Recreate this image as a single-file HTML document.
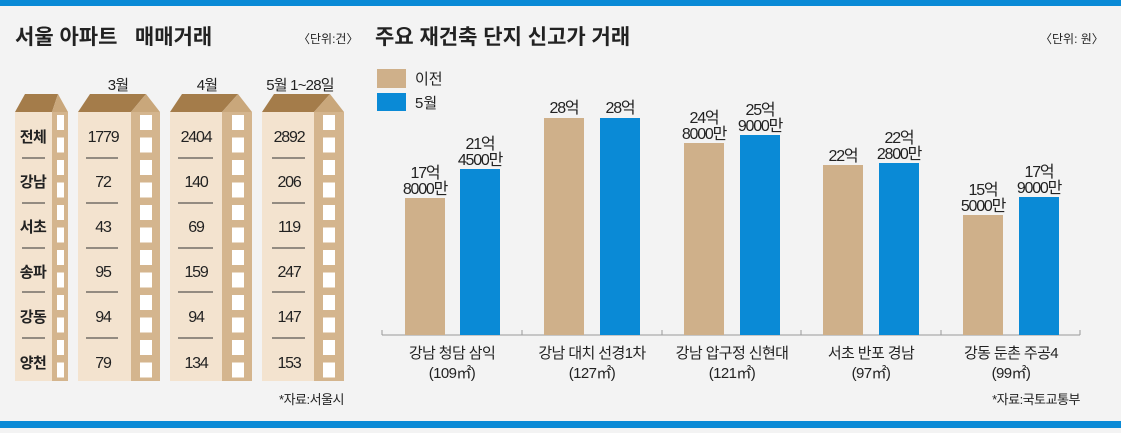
<!DOCTYPE html><html><head><meta charset="utf-8"><style>
body{margin:0;width:1121px;height:428px;overflow:hidden;background:#f3f3f3}
text{font-family:"Liberation Sans","Noto Sans CJK KR",sans-serif;fill:#222}
</style></head><body>
<svg width="1121" height="428" xmlns="http://www.w3.org/2000/svg">
<rect width="1121" height="428" fill="#f3f3f3"/>
<rect width="1121" height="6" fill="#0a8ad6"/>
<rect y="421" width="1121" height="7" fill="#0a8ad6"/>
<text x="15" y="44" font-size="21" font-weight="bold" xml:space="preserve">서울 아파트   매매거래</text>
<text x="298" y="43" font-size="12">〈단위:건〉</text>
<text x="375" y="44" font-size="21" font-weight="bold">주요 재건축 단지 신고가 거래</text>
<text x="1040" y="43" font-size="12">〈단위: 원〉</text>
<g font-size="15" text-anchor="middle" letter-spacing="-0.8">
<text x="118" y="90">3월</text><text x="207" y="90">4월</text><text x="300" y="90">5월 1~28일</text></g>
<defs>
<pattern id="win" x="0" y="112" width="14" height="22.5" patternUnits="userSpaceOnUse"><rect x="0" y="3" width="14" height="15" fill="#fff"/></pattern>
</defs>
<g>
<rect x="15" y="112" width="37" height="269" fill="#f3e3cf"/><rect x="52" y="112" width="16" height="269" fill="#d4b58e"/>
<polygon points="15,112 25,94 58,94 52,112" fill="#a47c4a"/><polygon points="52,112 58,94 68,112" fill="#c9a77b"/>
<rect x="57" y="115" width="7" height="263" fill="url(#win)"/>
<rect x="78" y="112" width="53" height="269" fill="#f3e3cf"/><rect x="131" y="112" width="29" height="269" fill="#d4b58e"/>
<polygon points="78,112 90,94 146,94 131,112" fill="#a47c4a"/><polygon points="131,112 146,94 160,112" fill="#c9a77b"/>
<rect x="140" y="115" width="12" height="263" fill="url(#win)"/>
<rect x="170" y="112" width="52" height="269" fill="#f3e3cf"/><rect x="222" y="112" width="30" height="269" fill="#d4b58e"/>
<polygon points="170,112 182,94 238,94 222,112" fill="#a47c4a"/><polygon points="222,112 238,94 252,112" fill="#c9a77b"/>
<rect x="232" y="115" width="12" height="263" fill="url(#win)"/>
<rect x="262" y="112" width="52" height="269" fill="#f3e3cf"/><rect x="314" y="112" width="30" height="269" fill="#d4b58e"/>
<polygon points="262,112 274,94 330,94 314,112" fill="#a47c4a"/><polygon points="314,112 330,94 344,112" fill="#c9a77b"/>
<rect x="323" y="115" width="12" height="263" fill="url(#win)"/>
</g>
<g stroke="#333" stroke-width="1">
<line x1="22" x2="45" y1="158" y2="158"/><line x1="22" x2="45" y1="203" y2="203"/><line x1="22" x2="45" y1="248" y2="248"/><line x1="22" x2="45" y1="292" y2="292"/><line x1="22" x2="45" y1="338" y2="338"/>
<line x1="86" x2="118" y1="158" y2="158"/><line x1="86" x2="118" y1="203" y2="203"/><line x1="86" x2="118" y1="248" y2="248"/><line x1="86" x2="118" y1="292" y2="292"/><line x1="86" x2="118" y1="338" y2="338"/>
<line x1="178" x2="213" y1="158" y2="158"/><line x1="178" x2="213" y1="203" y2="203"/><line x1="178" x2="213" y1="248" y2="248"/><line x1="178" x2="213" y1="292" y2="292"/><line x1="178" x2="213" y1="338" y2="338"/>
<line x1="272" x2="305" y1="158" y2="158"/><line x1="272" x2="305" y1="203" y2="203"/><line x1="272" x2="305" y1="248" y2="248"/><line x1="272" x2="305" y1="292" y2="292"/><line x1="272" x2="305" y1="338" y2="338"/>
</g>
<g font-size="15" text-anchor="middle" font-weight="bold" letter-spacing="-0.5">
<text x="33" y="142">전체</text><text x="33" y="187">강남</text><text x="33" y="232">서초</text><text x="33" y="277">송파</text><text x="33" y="322">강동</text><text x="33" y="368">양천</text></g>
<g font-size="16" text-anchor="middle" letter-spacing="-1.2">
<text x="103" y="142">1779</text><text x="103" y="187">72</text><text x="103" y="232">43</text><text x="103" y="277">95</text><text x="103" y="322">94</text><text x="103" y="368">79</text>
<text x="196" y="142">2404</text><text x="196" y="187">140</text><text x="196" y="232">69</text><text x="196" y="277">159</text><text x="196" y="322">94</text><text x="196" y="368">134</text>
<text x="289" y="142">2892</text><text x="289" y="187">206</text><text x="289" y="232">119</text><text x="289" y="277">247</text><text x="289" y="322">147</text><text x="289" y="368">153</text>
</g>
<text x="344" y="404" font-size="13" text-anchor="end" letter-spacing="-0.5">*자료:서울시</text>
<rect x="377" y="69" width="29" height="19" fill="#cfb08a"/><rect x="377" y="93" width="29" height="18" fill="#0a8ad6"/>
<text x="415" y="84" font-size="15">이전</text><text x="415" y="108" font-size="15">5월</text>
<g stroke="#999"><line x1="382" x2="1080" y1="335" y2="335"/>
<line x1="382" x2="382" y1="330" y2="335"/><line x1="522" x2="522" y1="330" y2="335"/><line x1="662" x2="662" y1="330" y2="335"/><line x1="801" x2="801" y1="330" y2="335"/><line x1="941" x2="941" y1="330" y2="335"/><line x1="1080" x2="1080" y1="330" y2="335"/></g>
<g fill="#cfb08a"><rect x="405" y="198" width="40" height="137"/><rect x="544" y="118" width="40" height="217"/><rect x="684" y="143" width="40" height="192"/><rect x="823" y="165" width="40" height="170"/><rect x="963" y="215" width="40" height="120"/></g>
<g fill="#0a8ad6"><rect x="460" y="169" width="40" height="166"/><rect x="600" y="118" width="40" height="217"/><rect x="740" y="135" width="40" height="200"/><rect x="879" y="163" width="40" height="172"/><rect x="1019" y="197" width="40" height="138"/></g>
<g font-size="16" text-anchor="middle" letter-spacing="-1.2">
<text x="425" y="178">17억</text><text x="425" y="194">8000만</text>
<text x="480" y="149">21억</text><text x="480" y="165">4500만</text>
<text x="564" y="113">28억</text><text x="620" y="113">28억</text>
<text x="704" y="123">24억</text><text x="704" y="139">8000만</text>
<text x="760" y="115">25억</text><text x="760" y="131">9000만</text>
<text x="843" y="161">22억</text>
<text x="899" y="143">22억</text><text x="899" y="159">2800만</text>
<text x="983" y="195">15억</text><text x="983" y="211">5000만</text>
<text x="1039" y="177">17억</text><text x="1039" y="193">9000만</text>
</g>
<g font-size="15" text-anchor="middle" letter-spacing="-0.6">
<text x="452" y="358">강남 청담 삼익</text><text x="452" y="378">(109㎡)</text>
<text x="592" y="358">강남 대치 선경1차</text><text x="592" y="378">(127㎡)</text>
<text x="732" y="358">강남 압구정 신현대</text><text x="732" y="378">(121㎡)</text>
<text x="871" y="358">서초 반포 경남</text><text x="871" y="378">(97㎡)</text>
<text x="1011" y="358">강동 둔촌 주공4</text><text x="1011" y="378">(99㎡)</text>
</g>
<text x="1080" y="404" font-size="13" text-anchor="end" letter-spacing="-0.5">*자료:국토교통부</text>
</svg></body></html>
